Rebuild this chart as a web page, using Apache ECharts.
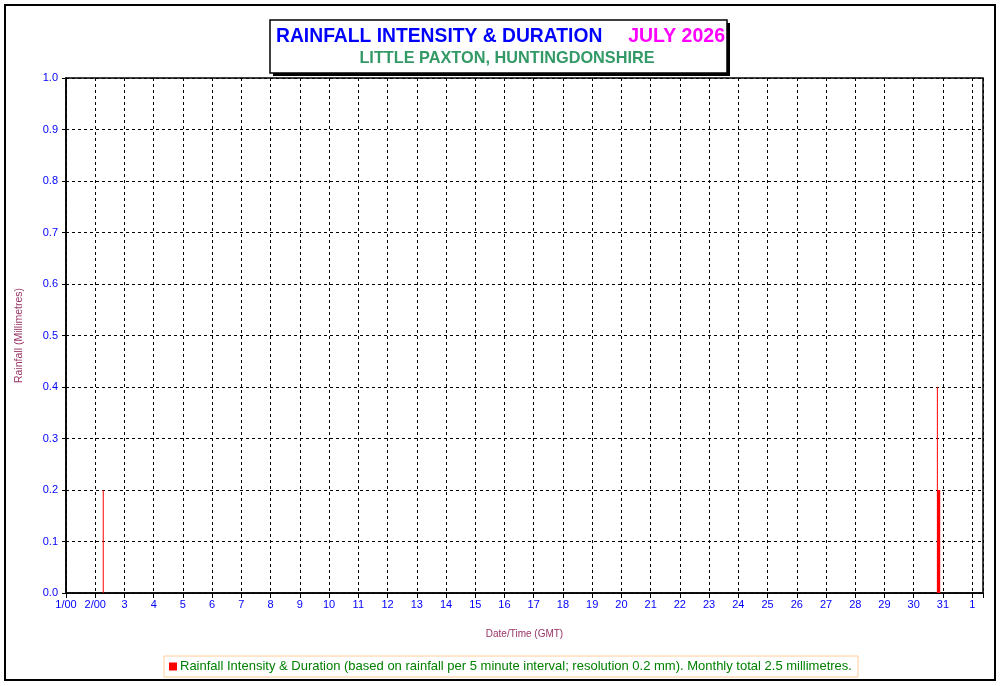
<!DOCTYPE html>
<html>
<head>
<meta charset="utf-8">
<script src="https://cdn.jsdelivr.net/npm/echarts@6/dist/echarts.min.js"></script>
<style>
html,body{margin:0;padding:0;background:#fff;}
#chart{width:1001px;height:686px;}
</style>
</head>
<body>
<div id="chart"></div>
<script>
// ---- data ----
const monthStart = '2026-07-01 00:00';
const dayLabels = ['1/00','2/00','3','4','5','6','7','8','9','10','11','12','13','14','15','16','17','18','19','20','21','22','23','24','25','26','27','28','29','30','31','1'];
const yTicks = [0,0.1,0.2,0.3,0.4,0.5,0.6,0.7,0.8,0.9,1.0];
const rainTimes = ['2026-07-02 06:35','2026-07-30 19:25','2026-07-30 19:35','2026-07-30 19:50','2026-07-30 20:05','2026-07-30 20:20','2026-07-30 20:35','2026-07-30 20:50','2026-07-30 21:05','2026-07-30 21:20'];
const rainValues = [0.2,0.4,0.2,0.2,0.2,0.2,0.2,0.2,0.2,0.2];
const seriesName = 'Rainfall Intensity & Duration (based on rainfall per 5 minute interval; resolution 0.2 mm). Monthly total 2.5 millimetres.';

function toDays(s){
  const p = t => { const [d,h] = t.split(' '); const [Y,M,D] = d.split('-').map(Number); const [hh,mm] = h.split(':').map(Number); return Date.UTC(Y,M-1,D,hh,mm); };
  return (p(s) - p(monthStart)) / 86400000;
}
const rainData = rainTimes.map((t,i) => [toDays(t), rainValues[i]]);

const font = '"Liberation Sans", Arial, sans-serif';
const chart = echarts.init(document.getElementById('chart'), null, {renderer:'canvas'});
chart.setOption({
  animation:false,
  backgroundColor:'#fff',
  grid:{left:66, right:18, top:78, bottom:93, show:true, borderColor:'#000', borderWidth:1.5, backgroundColor:'transparent'},
  xAxis:{
    type:'value', min:0, max:31.37, interval:1,
    name:'Date/Time (GMT)', nameLocation:'middle', nameGap:36,
    nameTextStyle:{color:'#993366', fontSize:10, fontFamily:font},
    axisLine:{show:true, lineStyle:{color:'#000', width:1.5}},
    axisTick:{show:true, length:5, lineStyle:{color:'#000'}},
    axisLabel:{color:'#0000ff', fontSize:11, fontFamily:font, margin:6,
      formatter:v => (Math.abs(v-Math.round(v))<1e-6 && dayLabels[Math.round(v)]!==undefined) ? dayLabels[Math.round(v)] : ''},
    splitLine:{show:true, lineStyle:{color:'#000', type:[3,3], width:1}}
  },
  yAxis:{
    type:'value', min:yTicks[0], max:yTicks[yTicks.length-1], interval:0.1,
    name:'Rainfall (Millimetres)', nameLocation:'middle', nameGap:41, nameRotate:90,
    nameTextStyle:{color:'#993366', fontSize:10.5, fontFamily:font},
    axisLine:{show:true, lineStyle:{color:'#000', width:1.5}},
    axisTick:{show:true, length:4, lineStyle:{color:'#000'}},
    axisLabel:{color:'#0000ff', fontSize:11, fontFamily:font, margin:8, formatter:v => v.toFixed(1)},
    splitLine:{show:true, lineStyle:{color:'#000', type:[3,3], width:1}}
  },
  legend:{
    show:true, left:164, top:656, orient:'horizontal',
    padding:[4,6,4,5], borderColor:'#ffcc99', borderWidth:1,
    icon:'rect', itemWidth:8, itemHeight:8, itemGap:4,
    textStyle:{color:'#008000', fontSize:13, fontFamily:font, padding:[0,0,0,-2]},
    data:[{name:seriesName}]
  },
  series:[{
    name:seriesName, type:'bar', data:rainData, barWidth:1,
    itemStyle:{color:'#ff0000'}, barGap:'-100%'
  }],
  graphic:[
    {type:'rect', shape:{x:5, y:5, width:990, height:675}, style:{fill:'none', stroke:'#000', lineWidth:2}, silent:true, z:100},
    {type:'rect', shape:{x:273, y:23, width:457, height:53}, style:{fill:'#000'}, silent:true, z:100},
    {type:'rect', shape:{x:270, y:20, width:457, height:53}, style:{fill:'#fff', stroke:'#000', lineWidth:1.5}, silent:true, z:101},
    {type:'text', x:276, y:37, z:102, style:{text:'RAINFALL INTENSITY & DURATION', fill:'#0000ff', font:'bold 19.3px '+font, verticalAlign:'middle'}},
    {type:'text', x:725, y:37, z:102, style:{text:'JULY 2026', fill:'#ff00ff', font:'bold 19.5px '+font, align:'right', verticalAlign:'middle'}},
    {type:'text', x:507, y:59, z:102, style:{text:'LITTLE PAXTON, HUNTINGDONSHIRE', fill:'#339966', font:'bold 16.3px '+font, align:'center', verticalAlign:'middle'}}
  ]
});
</script>
</body>
</html>
